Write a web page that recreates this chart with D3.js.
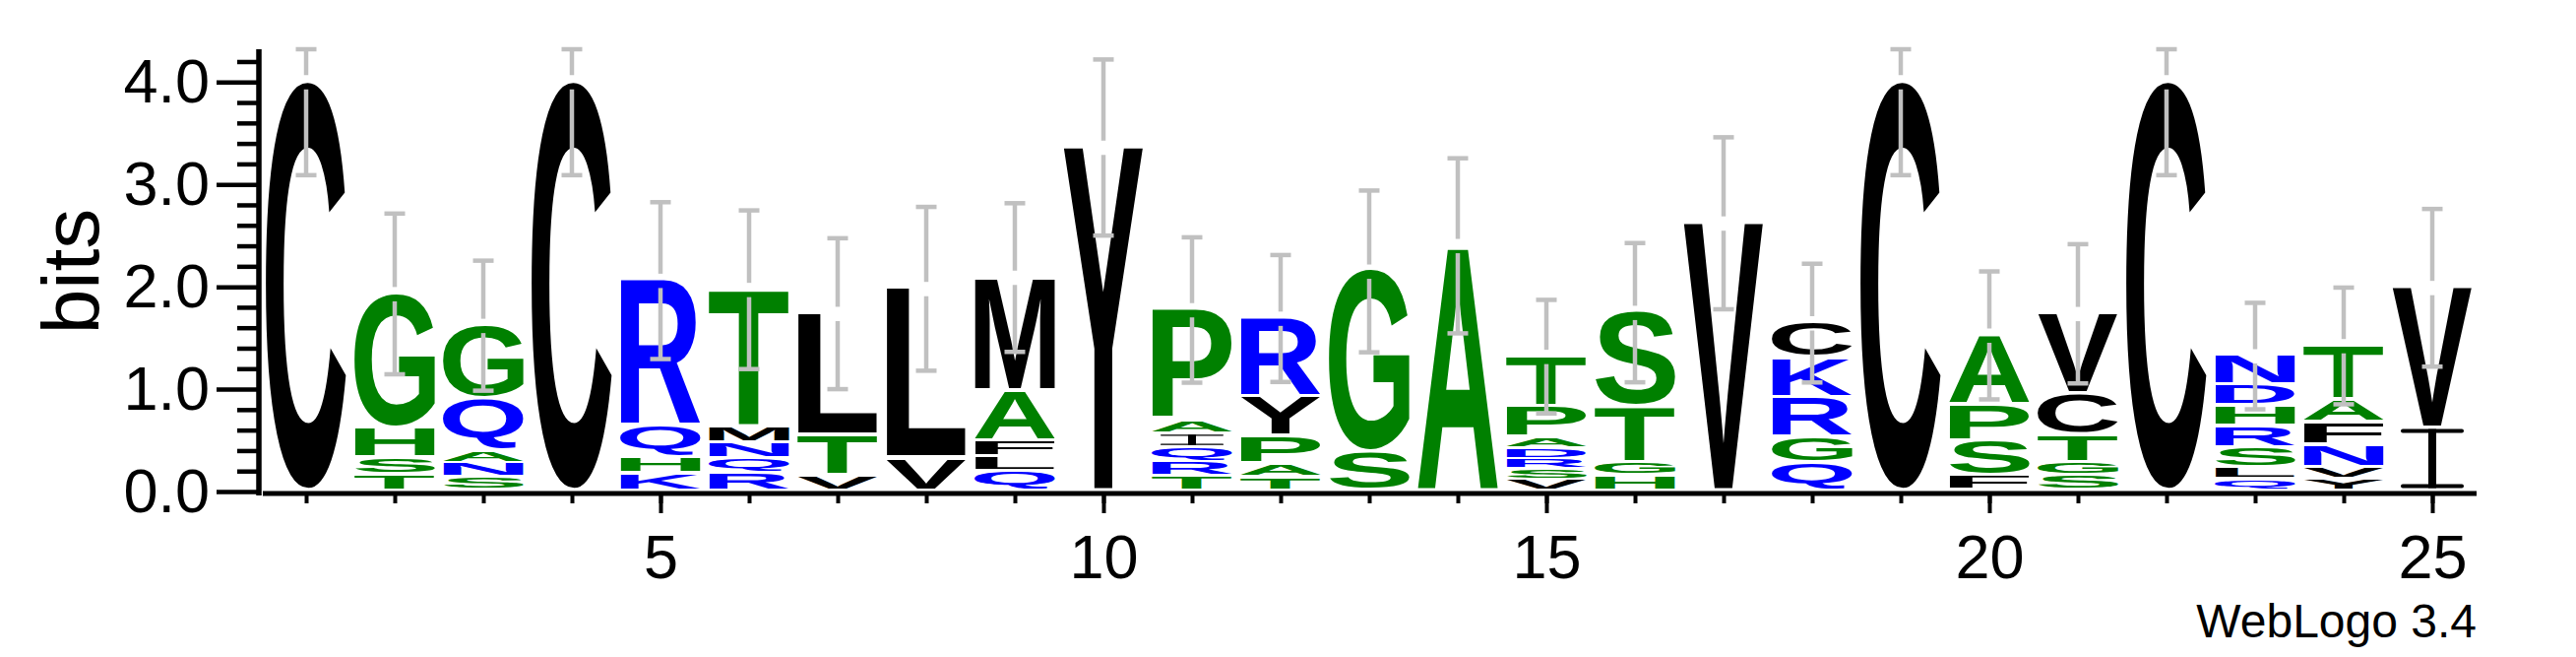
<!DOCTYPE html>
<html>
<head>
<meta charset="utf-8">
<script src="https://cdn.jsdelivr.net/npm/d3@7"></script>
<style>
  html, body { margin: 0; padding: 0; background: #fff; }
  svg { display: block; }
</style>
</head>
<body>
<div id="chart"></div>
<script>
// ---- data ----
const positions = d3.range(1, 26);

// letters in each column, bottom -> top
const letters = [
  ["C"],
  ["T", "S", "H", "G"],
  ["S", "N", "A", "Q", "G"],
  ["C"],
  ["K", "H", "Q", "R"],
  ["R", "Q", "N", "M", "T"],
  ["V", "T", "L"],
  ["V", "L"],
  ["Q", "L", "F", "A", "M"],
  ["Y"],
  ["T", "R", "Q", "I", "A", "P"],
  ["T", "A", "P", "Y", "R"],
  ["S", "G"],
  ["A"],
  ["V", "S", "R", "D", "A", "P", "T"],
  ["H", "G", "T", "S"],
  ["V"],
  ["Q", "G", "R", "K", "C"],
  ["C"],
  ["F", "S", "P", "A"],
  ["S", "G", "T", "C", "V"],
  ["C"],
  ["Q", "L", "S", "R", "H", "D", "N"],
  ["Y", "V", "N", "F", "A", "T"],
  ["I", "V"]
];

// information content (bits) of each letter, same order
const bits = [
  [4.0],
  [0.16, 0.16, 0.29, 1.32],
  [0.13, 0.14, 0.12, 0.51, 0.72],
  [4.0],
  [0.17, 0.16, 0.31, 1.42],
  [0.175, 0.14, 0.154, 0.152, 1.35],
  [0.147, 0.40, 1.19],
  [0.32, 1.66],
  [0.19, 0.14, 0.16, 0.49, 1.11],
  [3.36],
  [0.144, 0.14, 0.137, 0.135, 0.137, 1.08],
  [0.13, 0.13, 0.27, 0.39, 0.77],
  [0.37, 1.78],
  [2.40],
  [0.113, 0.098, 0.103, 0.104, 0.099, 0.31, 0.49],
  [0.144, 0.133, 0.54, 0.93],
  [2.62],
  [0.27, 0.25, 0.39, 0.385, 0.35],
  [4.0],
  [0.14, 0.345, 0.354, 0.686],
  [0.15, 0.126, 0.27, 0.40, 0.79],
  [4.0],
  [0.113, 0.11, 0.2, 0.205, 0.2, 0.205, 0.29],
  [0.12, 0.107, 0.22, 0.22, 0.225, 0.53],
  [0.61, 1.38]
];

// error bar half-length (bits)
const errors = [0.91, 0.785, 0.635, 0.91, 0.766, 0.775, 0.737, 0.8, 0.726, 0.86,
  0.71, 0.62, 0.79, 0.855, 0.555, 0.68, 0.84, 0.58, 0.91, 0.625, 0.68, 0.91, 0.52, 0.57, 0.77];

const yTicks = [0, 1, 2, 3, 4];
const yMinorTicks = [0.2, 0.4, 0.6, 0.8, 1.2, 1.4, 1.6, 1.8, 2.2, 2.4, 2.6, 2.8, 3.2, 3.4, 3.6, 3.8, 4.2];
const xLabelTicks = [5, 10, 15, 20, 25];
const yLabel = "bits";
const footer = "WebLogo 3.4";

// hydrophobicity colour scheme
const colorGroups = [
  { letters: "RKDENQ", color: "#0000ff" },
  { letters: "SGHTAP", color: "#008000" },
  { letters: "YVMCLFIW", color: "#000000" }
];
function letterColor(ch) {
  for (const g of colorGroups) if (g.letters.includes(ch)) return g.color;
  return "#000000";
}

// ---- layout ----
const W = 2617, H = 667;
const x = d3.scaleLinear().domain([1, 25]).range([311, 2471]);
const y = d3.scaleLinear().domain([0, 4.32]).range([499, 50]);
const colW = 82;
const FONT = "Liberation Sans, Arial, Helvetica, sans-serif";

const svg = d3.select("#chart").append("svg")
  .attr("width", W).attr("height", H)
  .attr("viewBox", `0 0 ${W} ${H}`);

svg.append("rect").attr("width", W).attr("height", H).attr("fill", "#fff");

// measure glyph ink bounds
const ctx = document.createElement("canvas").getContext("2d");
ctx.font = 'bold 100px "Liberation Sans"';
const inkCache = {};
function ink(ch) {
  if (!inkCache[ch]) {
    const m = ctx.measureText(ch);
    inkCache[ch] = {
      L: m.actualBoundingBoxLeft, R: m.actualBoundingBoxRight,
      A: m.actualBoundingBoxAscent, D: m.actualBoundingBoxDescent
    };
  }
  return inkCache[ch];
}

// build stacks
const stacks = positions.map((p, i) => {
  let cum = 0;
  const items = letters[i].map((ch, j) => {
    const h = bits[i][j];
    const it = { ch, y0: cum, y1: cum + h, p };
    cum += h;
    return it;
  });
  return { p, total: cum, err: errors[i], items };
});

const gLetters = svg.append("g").attr("class", "letters");
stacks.forEach(s => {
  s.items.forEach(it => {
    const bottom = y(it.y0), top = y(it.y1);
    const slotH = bottom - top;
    const gap = Math.min(3.5, slotH * 0.25);
    const gh = slotH - gap;
    const x0 = x(it.p) - colW / 2;
    const col = letterColor(it.ch);
    if (it.ch === "I") {
      const bw = colW * 0.78;
      const th = Math.max(1.2, Math.min(4, gh * 0.08));
      const sw = 8;
      const cx = x(it.p);
      const g = gLetters.append("g").attr("fill", col);
      g.append("rect").attr("x", cx - bw / 2).attr("y", top).attr("width", bw).attr("height", th).attr("rx", th / 2);
      g.append("rect").attr("x", cx - bw / 2).attr("y", top + gh - th).attr("width", bw).attr("height", th).attr("rx", th / 2);
      g.append("rect").attr("x", cx - sw / 2).attr("y", top).attr("width", sw).attr("height", gh);
      return;
    }
    const b = ink(it.ch);
    const sx = colW / (b.L + b.R);
    const sy = gh / (b.A + b.D);
    gLetters.append("text")
      .attr("font-family", FONT)
      .attr("font-weight", "bold")
      .attr("font-size", 100)
      .attr("fill", col)
      .attr("transform", `translate(${x0},${top}) scale(${sx},${sy}) translate(${b.L},${b.A})`)
      .text(it.ch);
  });
});

// error bars
const gErr = svg.append("g").attr("class", "errorbars")
  .attr("stroke", "#c0c0c0").attr("stroke-width", 4.5).attr("fill", "none");
stacks.forEach(s => {
  const cx = x(s.p);
  const yc = y(s.total);
  const yt = y(Math.min(4.32, s.total + s.err));
  const yb = y(Math.max(0, s.total - s.err));
  const capW = 21;
  gErr.append("line").attr("x1", cx).attr("x2", cx).attr("y1", yt).attr("y2", yc - 7);
  gErr.append("line").attr("x1", cx).attr("x2", cx).attr("y1", yc + 7.5).attr("y2", yb);
  gErr.append("line").attr("x1", cx - capW / 2).attr("x2", cx + capW / 2).attr("y1", yt).attr("y2", yt);
  gErr.append("line").attr("x1", cx - capW / 2).attr("x2", cx + capW / 2).attr("y1", yb).attr("y2", yb);
});

// y axis
const gy = svg.append("g").attr("transform", "translate(263,0)");
gy.call(d3.axisLeft(y).tickValues(yTicks).tickSize(43).tickSizeOuter(0).tickPadding(7)
  .tickFormat(d3.format(".1f")));
gy.select(".domain").remove();
gy.selectAll(".tick line").attr("stroke", "#000").attr("stroke-width", 4.5);
gy.selectAll(".tick text").attr("font-family", FONT).attr("font-size", 63).attr("fill", "#000");
const gyMinor = svg.append("g").attr("transform", "translate(263,0)");
gyMinor.call(d3.axisLeft(y).tickValues(yMinorTicks).tickSize(22).tickSizeOuter(0).tickFormat(""));
gyMinor.select(".domain").remove();
gyMinor.selectAll(".tick line").attr("stroke", "#000").attr("stroke-width", 4.5);
svg.append("line").attr("x1", 263).attr("x2", 263).attr("y1", y(4.32)).attr("y2", 503)
  .attr("stroke", "#000").attr("stroke-width", 5.5);

// x axis
const gxMinor = svg.append("g").attr("transform", "translate(0,501)");
gxMinor.call(d3.axisBottom(x).tickValues(positions).tickSize(10).tickSizeOuter(0).tickFormat(""));
gxMinor.select(".domain").remove();
gxMinor.selectAll(".tick line").attr("stroke", "#000").attr("stroke-width", 4);
const gx = svg.append("g").attr("transform", "translate(0,501)");
gx.call(d3.axisBottom(x).tickValues(xLabelTicks).tickSize(20).tickSizeOuter(0).tickPadding(21)
  .tickFormat(d3.format("d")));
gx.select(".domain").remove();
gx.selectAll(".tick line").attr("stroke", "#000").attr("stroke-width", 4);
gx.selectAll(".tick text").attr("font-family", FONT).attr("font-size", 63).attr("fill", "#000");
svg.append("line").attr("x1", 267).attr("x2", 2516).attr("y1", 501).attr("y2", 501)
  .attr("stroke", "#000").attr("stroke-width", 5);

// y label
svg.append("text")
  .attr("transform", "translate(100,275.5) rotate(-90)")
  .attr("text-anchor", "middle")
  .attr("font-family", FONT).attr("font-size", 82).attr("fill", "#000")
  .text(yLabel);

// footer
svg.append("text")
  .attr("x", 2516).attr("y", 647)
  .attr("text-anchor", "end")
  .attr("font-family", FONT).attr("font-size", 48).attr("fill", "#000")
  .text(footer);
</script>
</body>
</html>
